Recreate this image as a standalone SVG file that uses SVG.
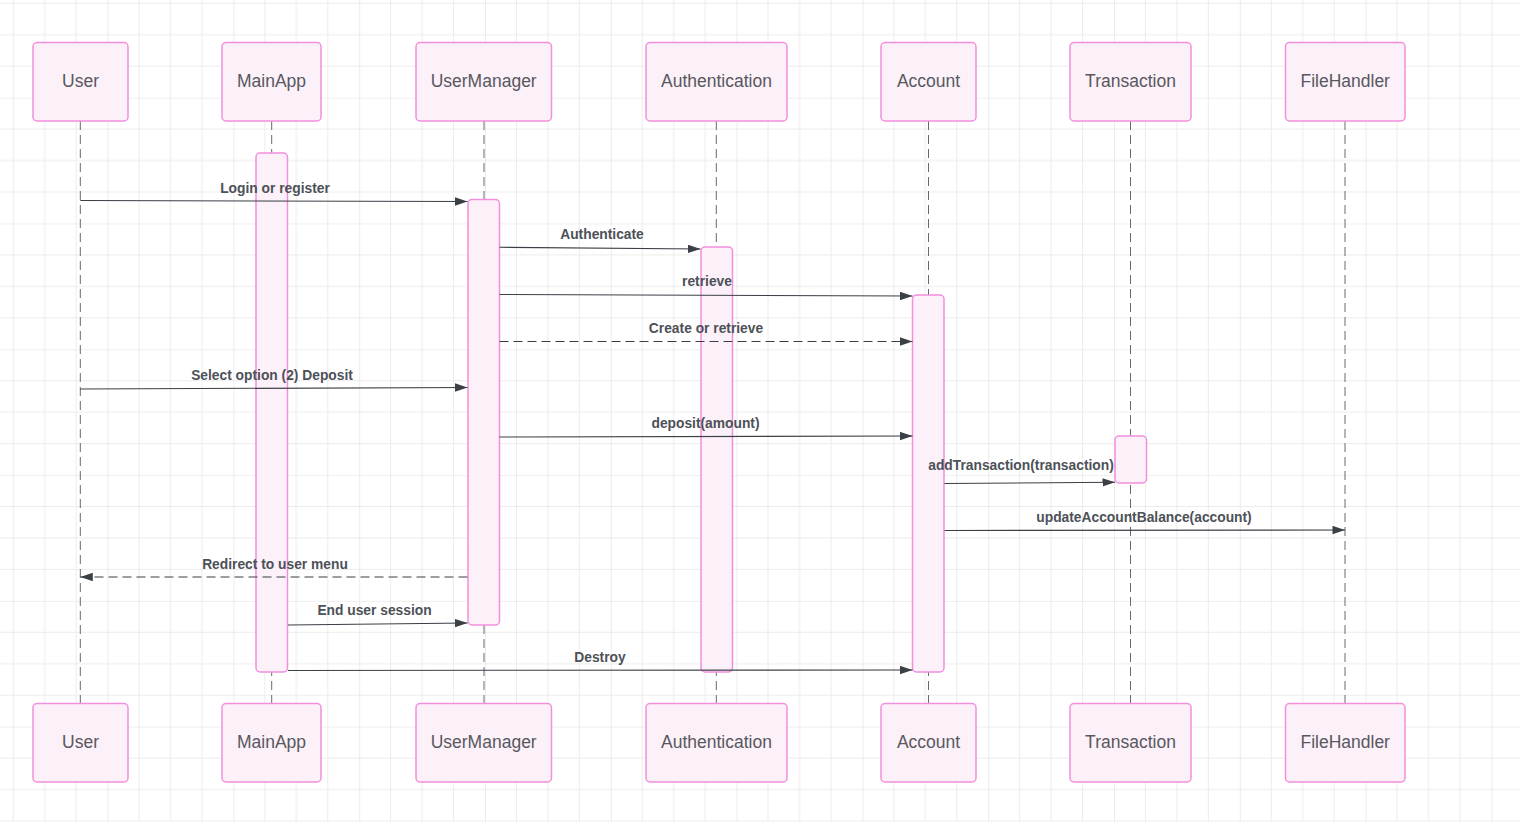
<svg xmlns="http://www.w3.org/2000/svg" width="1520" height="822" viewBox="0 0 1520 822">
<defs>
<pattern id="grid" patternUnits="userSpaceOnUse" x="-18.2" y="-28.15" width="125.8" height="125.8">
<path d="M31.45 0V125.8M62.9 0V125.8M94.35 0V125.8M0 31.45H125.8M0 62.9H125.8M0 94.35H125.8" stroke="#ececec" stroke-width="1" fill="none"/>
<path d="M0 0V125.8M0 0H125.8" stroke="#e0e0e0" stroke-width="1.2" fill="none"/>
</pattern>
<marker id="arrow" markerUnits="userSpaceOnUse" markerWidth="13" markerHeight="9" refX="12.5" refY="4.2" orient="auto">
<path d="M0 0L12.5 4.2L0 8.4Z" fill="#3b3f46"/>
</marker>
<style>
.actor rect{fill:#fcf0f9;stroke:#f28fdc;stroke-width:1.5}
.actor text{font-family:"Liberation Sans",Arial,sans-serif;font-size:17.5px;fill:#58585e;text-anchor:middle}
.life{stroke:#666a70;stroke-width:1;stroke-dasharray:9 5;fill:none}
.act{fill:#fcf0f9;stroke:#f28fdc;stroke-width:1.5}
.msg{stroke:#3b3f46;stroke-width:1.1;fill:none;marker-end:url(#arrow)}
.dash{stroke-dasharray:9 5}
.lbl{font-family:"Liberation Sans",Arial,sans-serif;font-size:13.8px;font-weight:bold;fill:#4d5158;text-anchor:middle}
</style>
</defs>
<rect width="1520" height="822" fill="#ffffff"/>
<rect width="1520" height="822" fill="url(#grid)"/>

<g id="lifelines">
<line class="life" x1="80.3" y1="121" x2="80.3" y2="703.5"/>
<line class="life" x1="271.7" y1="121" x2="271.7" y2="703.5"/>
<line class="life" x1="484" y1="121" x2="484" y2="703.5"/>
<line class="life" x1="716.3" y1="121" x2="716.3" y2="703.5"/>
<line class="life" x1="928.5" y1="121" x2="928.5" y2="703.5"/>
<line class="life" x1="1130.5" y1="121" x2="1130.5" y2="703.5"/>
<line class="life" x1="1345" y1="121" x2="1345" y2="703.5"/>
</g>

<g id="activations">
<rect id="act-mainapp" class="act" x="256" y="153" width="31.5" height="519" rx="4"/>
<rect id="act-usermanager" class="act" x="468" y="199.5" width="31.5" height="425.5" rx="4"/>
<rect id="act-authentication" class="act" x="701" y="247" width="31.5" height="425" rx="4"/>
<rect id="act-account" class="act" x="912.5" y="295" width="31.5" height="377" rx="4"/>
<rect id="act-transaction" class="act" x="1115" y="436" width="31.5" height="47" rx="4"/>
</g>

<g id="user-top" class="actor"><rect x="33" y="42.5" width="95" height="78.5" rx="4"/><text x="80.5" y="86.7">User</text></g>
<g id="mainapp-top" class="actor"><rect x="222" y="42.5" width="99" height="78.5" rx="4"/><text x="271.5" y="86.7">MainApp</text></g>
<g id="usermanager-top" class="actor"><rect x="416" y="42.5" width="135.5" height="78.5" rx="4"/><text x="483.7" y="86.7">UserManager</text></g>
<g id="authentication-top" class="actor"><rect x="646" y="42.5" width="141" height="78.5" rx="4"/><text x="716.5" y="86.7">Authentication</text></g>
<g id="account-top" class="actor"><rect x="881" y="42.5" width="95" height="78.5" rx="4"/><text x="928.5" y="86.7">Account</text></g>
<g id="transaction-top" class="actor"><rect x="1070" y="42.5" width="121" height="78.5" rx="4"/><text x="1130.5" y="86.7">Transaction</text></g>
<g id="filehandler-top" class="actor"><rect x="1285.5" y="42.5" width="119.5" height="78.5" rx="4"/><text x="1345.2" y="86.7">FileHandler</text></g>

<g id="user-bottom" class="actor"><rect x="33" y="703.5" width="95" height="78.5" rx="4"/><text x="80.5" y="747.7">User</text></g>
<g id="mainapp-bottom" class="actor"><rect x="222" y="703.5" width="99" height="78.5" rx="4"/><text x="271.5" y="747.7">MainApp</text></g>
<g id="usermanager-bottom" class="actor"><rect x="416" y="703.5" width="135.5" height="78.5" rx="4"/><text x="483.7" y="747.7">UserManager</text></g>
<g id="authentication-bottom" class="actor"><rect x="646" y="703.5" width="141" height="78.5" rx="4"/><text x="716.5" y="747.7">Authentication</text></g>
<g id="account-bottom" class="actor"><rect x="881" y="703.5" width="95" height="78.5" rx="4"/><text x="928.5" y="747.7">Account</text></g>
<g id="transaction-bottom" class="actor"><rect x="1070" y="703.5" width="121" height="78.5" rx="4"/><text x="1130.5" y="747.7">Transaction</text></g>
<g id="filehandler-bottom" class="actor"><rect x="1285.5" y="703.5" width="119.5" height="78.5" rx="4"/><text x="1345.2" y="747.7">FileHandler</text></g>

<g id="connectors">
<line class="msg" x1="80.3" y1="200.5" x2="467.5" y2="201.5"/>
<text class="lbl" x="275" y="192.5">Login or register</text>
<line class="msg" x1="499.5" y1="247.3" x2="700.5" y2="249"/>
<text class="lbl" x="602" y="239.3">Authenticate</text>
<line class="msg" x1="499.5" y1="294.5" x2="912.5" y2="296"/>
<text class="lbl" x="707" y="286">retrieve</text>
<line class="msg dash" x1="499.5" y1="341.5" x2="912.5" y2="341.5"/>
<text class="lbl" x="706" y="333">Create or retrieve</text>
<line class="msg" x1="80.3" y1="389" x2="467.5" y2="387.5"/>
<text class="lbl" x="272" y="380">Select option (2) Deposit</text>
<line class="msg" x1="499.5" y1="437" x2="912.5" y2="436"/>
<text class="lbl" x="705.5" y="428">deposit(amount)</text>
<line class="msg" x1="944.5" y1="483.5" x2="1115" y2="482.3"/>
<text class="lbl" x="1021" y="470">addTransaction(transaction)</text>
<line class="msg" x1="944.5" y1="530.5" x2="1345" y2="530"/>
<text class="lbl" x="1144" y="521.5">updateAccountBalance(account)</text>
<line class="msg dash" x1="467.5" y1="577" x2="80.3" y2="577"/>
<text class="lbl" x="275" y="568.5">Redirect to user menu</text>
<line class="msg" x1="288" y1="625" x2="467.5" y2="623"/>
<text class="lbl" x="374.5" y="615">End user session</text>
<line class="msg" x1="288" y1="670.5" x2="912.5" y2="670"/>
<text class="lbl" x="600" y="661.7">Destroy</text>
</g>
</svg>
